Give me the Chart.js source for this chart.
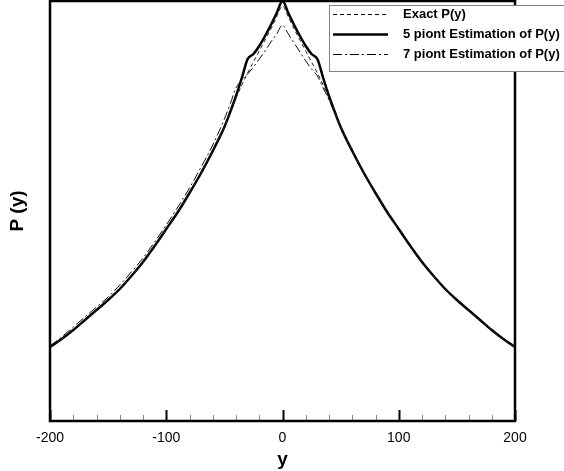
<!DOCTYPE html>
<html>
<head>
<meta charset="utf-8">
<script src="https://cdn.jsdelivr.net/npm/chart.js@4/dist/chart.umd.min.js"></script>
<style>
  html, body { margin: 0; padding: 0; background: #fff; }
  #wrap { width: 564px; height: 471px; }
</style>
</head>
<body>
<div id="wrap"><canvas id="c" width="564" height="471"></canvas></div>
<script>
// y positions along the axis
const ys = [-200,-190,-180,-170,-160,-150,-140,-130,-120,-110,-100,-90,-80,-70,-60,-50,-45,-40,-35,-30,-25,-20,-15,-10,-5,0,
            5,10,15,20,25,30,35,40,45,50,60,70,80,90,100,110,120,130,140,150,160,170,180,190,200];
// P(y), arbitrary units
const exactP = [74,82,91,101,111,121,132,145,159,175,192,209,228,248,270,294,309,323,336,348,359,370,381,392,404,415,
                404,392,381,370,359,348,336,323,309,294,270,248,228,209,192,175,159,145,132,121,111,101,91,82,74];
const fivePointP = [74,82,91,101,111,121,132,145,159,175,192,209,228,248,270,294,309,325,343,362,367,375,385,396,408,420,
                    408,396,385,375,367,362,343,325,309,294,270,248,228,209,192,175,159,145,132,121,111,101,91,82,74];
const sevenPointP = [75,84,94,104,114,124,136,149,163,179,196,214,233,254,276,302,317,333,341,347,354,362,370,379,387,396,
                     387,378,369,360,352,345,333,321,308,294,270,248,228,209,192,175,159,145,132,121,111,101,91,82,74];
const majorTicks = [-200,-100,0,100,200];
const legendLabels = ['Exact P(y)', '5 piont Estimation of P(y)', '7 piont Estimation of P(y)'];

const toPts = arr => ys.map((x, i) => ({ x, y: arr[i] }));

const FONT = 'Arial, "Liberation Sans", sans-serif';

const framePlugin = {
  id: 'frame',
  afterDraw(chart) {
    const { ctx, chartArea: a, scales } = chart;
    const xs = scales.x;
    ctx.save();
    // inward ticks on bottom axis
    for (let v = -200; v <= 200; v += 20) {
      const px = Math.round(xs.getPixelForValue(v)) + 0.5;
      const major = majorTicks.includes(v);
      ctx.strokeStyle = major ? '#000' : '#888';
      ctx.lineWidth = major ? 2 : 1;
      ctx.beginPath();
      ctx.moveTo(px, a.bottom);
      ctx.lineTo(px, a.bottom - (major ? 11 : 6));
      ctx.stroke();
    }
    // frame
    ctx.strokeStyle = '#000';
    ctx.lineWidth = 2.5;
    ctx.strokeRect(a.left, a.top, a.right - a.left, a.bottom - a.top);

    // legend box
    ctx.fillStyle = '#fff';
    ctx.fillRect(329, 5, 240, 66);
    ctx.strokeStyle = '#808080';
    ctx.lineWidth = 1;
    ctx.strokeRect(329.5, 5.5, 240, 66);
    chart.data.datasets.forEach((ds, i) => {
      const y = 14 + i * 20 + 0.5;
      ctx.strokeStyle = '#000';
      ctx.lineWidth = ds.borderWidth;
      ctx.setLineDash(ds.borderDash || []);
      ctx.beginPath();
      ctx.moveTo(333, y);
      ctx.lineTo(388, y);
      ctx.stroke();
      ctx.setLineDash([]);
      ctx.fillStyle = '#000';
      ctx.font = 'bold 13px ' + FONT;
      ctx.textBaseline = 'middle';
      ctx.fillText(legendLabels[i], 403, y);
    });
    ctx.restore();
  }
};

new Chart(document.getElementById('c'), {
  type: 'line',
  data: {
    datasets: [
      { label: legendLabels[0], data: toPts(exactP), borderColor: '#222', borderWidth: 1, borderDash: [4, 3] },
      { label: legendLabels[1], data: toPts(fivePointP), borderColor: '#000', borderWidth: 2.5 },
      { label: legendLabels[2], data: toPts(sevenPointP), borderColor: '#111', borderWidth: 1, borderDash: [9, 3, 2, 3] }
    ]
  },
  options: {
    responsive: false,
    animation: false,
    layout: { padding: { top: 1, right: 49, left: 0, bottom: 0 } },
    elements: { point: { radius: 0 }, line: { cubicInterpolationMode: 'monotone', fill: false } },
    plugins: { legend: { display: false }, tooltip: { enabled: false } },
    scales: {
      x: {
        type: 'linear', min: -200, max: 200,
        afterFit: s => { s.height = 50; },
        grid: { display: false, drawTicks: false },
        border: { display: false },
        ticks: {
          stepSize: 100, padding: 9, color: '#000', maxRotation: 0,
          font: { family: FONT, size: 14 }
        },
        title: { display: true, text: 'y', color: '#000', padding: { top: 0, bottom: 0 },
                 font: { family: FONT, size: 19, weight: 'bold' } }
      },
      y: {
        type: 'linear', min: 0, max: 420,
        afterFit: s => { s.width = 50; },
        grid: { display: false, drawTicks: false },
        border: { display: false },
        ticks: { display: false },
        title: { display: true, text: 'P (y)', color: '#000', padding: { top: 6, bottom: 0 },
                 font: { family: FONT, size: 19, weight: 'bold' } }
      }
    }
  },
  plugins: [framePlugin]
});
</script>
</body>
</html>
